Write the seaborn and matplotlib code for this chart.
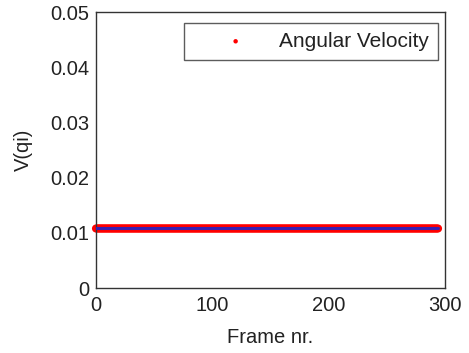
import matplotlib
matplotlib.use("Agg")
import matplotlib.pyplot as plt
import seaborn as sns
import numpy as np
import pandas as pd

frames = list(range(0, 295))
angular_velocity = [0.01078] * len(frames)
x_ticks = [0, 100, 200, 300]
y_ticks = [0, 0.01, 0.02, 0.03, 0.04, 0.05]
y_tick_labels = ["0", "0.01", "0.02", "0.03", "0.04", "0.05"]

sns.set_style("white")
plt.rcParams['font.family'] = ['Liberation Sans', 'DejaVu Sans']

df = pd.DataFrame({"Frame": frames, "V": angular_velocity})

fig = plt.figure(figsize=(4.69, 3.53), dpi=100)
ax = fig.add_axes([96 / 469, 65 / 353, 349 / 469, 276 / 353])

sns.scatterplot(data=df, x="Frame", y="V", ax=ax, color="red", marker="o", s=34,
                edgecolor="none", label="Angular Velocity", zorder=2, clip_on=False)
sns.lineplot(data=df, x="Frame", y="V", ax=ax, color="#3a1fb0", linewidth=2.2,
             zorder=3, legend=False)

ax.set_xlim(0, 300)
ax.set_ylim(0, 0.05)
ax.set_xticks(x_ticks)
ax.set_yticks(y_ticks)
ax.set_yticklabels(y_tick_labels)
ax.set_xlabel("Frame nr.", fontsize=14.5, labelpad=9, color="#222222")
ax.set_ylabel("V(qi)", fontsize=14.5, labelpad=12, color="#222222")
ax.tick_params(direction="in", length=3, labelsize=14.5, colors="#222222", width=0.9)
ax.tick_params(axis="y", pad=5)
ax.tick_params(axis="x", pad=6)
for s in ax.spines.values():
    s.set_color("#333333")
    s.set_linewidth(1.0)

leg = ax.legend(loc="upper right", bbox_to_anchor=(438 / 469, 1 - 23 / 353),
                bbox_transform=fig.transFigure, borderaxespad=0,
                frameon=True, fancybox=False, fontsize=15,
                markerscale=0.55, handletextpad=0.05, borderpad=0.42,
                handlelength=4.1)
leg.get_frame().set_edgecolor("#333333")
leg.get_frame().set_linewidth(1.0)
for t in leg.get_texts():
    t.set_color("#222222")

fig.savefig("out.png", dpi=100)
